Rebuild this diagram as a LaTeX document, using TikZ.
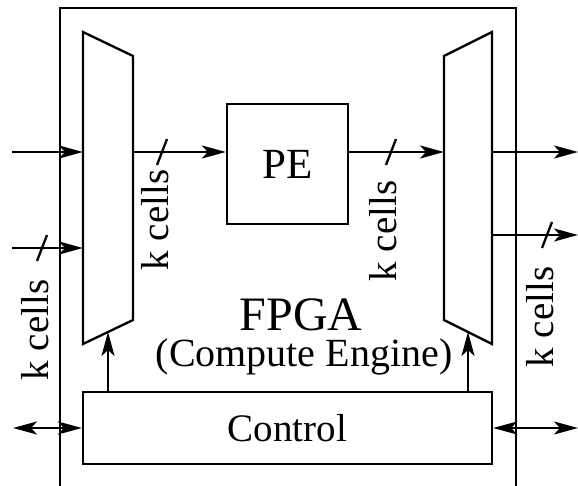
\documentclass[tikz,border=0pt]{standalone}
\usepackage{fontspec}
\setmainfont{Liberation Serif}
\usetikzlibrary{arrows.meta,calc}

\begin{document}
\begin{tikzpicture}[x=1pt, y=-1pt, line width=2.3pt,
  >={Stealth[length=24pt,width=13pt,inset=6pt]},
  lbl/.style={font=\fontsize{39}{40}\selectfont, rotate=90, inner sep=0pt},
  blk/.style={draw, inner sep=0pt, font=\fontsize{39}{40}\selectfont}]
  \useasboundingbox (0,0) rectangle (578,486);

  % FPGA outline (open at the bottom)
  \draw (60,486) -- (60,8) -- (516,8) -- (516,486);

  % Multiplexers
  \coordinate (muxL-tl) at (83,32);   \coordinate (muxL-tr) at (133,56);
  \coordinate (muxL-br) at (133,320); \coordinate (muxL-bl) at (83,344);
  \coordinate (muxR-tl) at (444,56);  \coordinate (muxR-tr) at (492,32);
  \coordinate (muxR-br) at (492,344); \coordinate (muxR-bl) at (444,320);
  \draw (muxL-tl) -- (muxL-tr) -- (muxL-br) -- (muxL-bl) -- cycle;
  \draw (muxR-tl) -- (muxR-tr) -- (muxR-br) -- (muxR-bl) -- cycle;

  % Blocks
  \node[blk, minimum width=121pt, minimum height=120pt, font=\fontsize{43}{44}\selectfont] (pe) at (287.5,164) {PE};
  \node[blk, minimum width=409pt, minimum height=72pt] (ctrl) at (287.5,428) {Control};

  % Data paths
  \coordinate (in1) at (12,152);  \coordinate (in2) at (12,248);
  \coordinate (out1) at (578,152); \coordinate (out2) at (578,235);
  \coordinate (busA) at (133,152); \coordinate (busB) at (444,152);
  \draw[->] (in1) -- (in1 -| muxL-tl);
  \draw[->] (in2) -- (in2 -| muxL-tl);
  \draw[->] (busA) -- (busA -| pe.west);
  \draw[->] (pe.east |- busB) -- (busB);
  \draw[->] (out1 -| muxR-tr) -- (out1);
  \draw[->] (out2 -| muxR-tr) -- (out2);

  % Bus width marks
  \foreach \p in {(42,248), (162,152), (391,152), (547,235)}
    \draw \p ++(-5,13) -- ++(10,-26);

  % Control lines
  \coordinate (selL) at ($(muxL-bl)!0.5!(muxL-br)$);
  \coordinate (selR) at ($(muxR-bl)!0.5!(muxR-br)$);
  \draw[->] (ctrl.north -| selL) -- (selL);
  \draw[->] (ctrl.north -| selR) -- (selR);
  \coordinate (ioL) at (13,428); \coordinate (ioR) at (578,428);
  \draw[<->] (ioL) -- (ctrl.west);
  \draw[<->] (ctrl.east) -- (ioR);

  % Labels
  \node[lbl] (kc1) at (35,330) {k cells};
  \node[lbl] (kc2) at (155,220) {k cells};
  \node[lbl] (kc3) at (383,231) {k cells};
  \node[lbl] (kc4) at (540,317) {k cells};
  \node[inner sep=0pt, font=\fontsize{48}{50}\selectfont] (fpga) at (301,315) {FPGA};
  \node[inner sep=0pt, font=\fontsize{40}{42}\selectfont] (eng) at (304,357) {(Compute Engine)};
\end{tikzpicture}
\end{document}
